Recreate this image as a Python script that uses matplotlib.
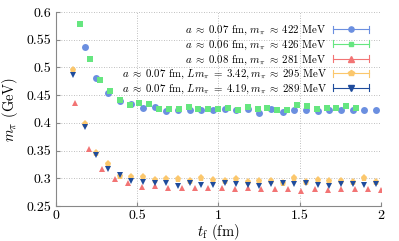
import numpy as np
import matplotlib.pyplot as plt
from matplotlib.lines import Line2D
from matplotlib.legend_handler import HandlerBase
from matplotlib.ticker import FormatStrFormatter

plt.rcParams['font.family'] = 'serif'
plt.rcParams['font.serif'] = ['cmr10']
plt.rcParams['mathtext.fontset'] = 'cm'
plt.rcParams['axes.formatter.use_mathtext'] = True

# a ~ 0.07 fm, m_pi ~ 422 MeV (blue circles)
t_blue = 0.178 + 0.0716 * np.arange(26)
m_blue = [0.5365, 0.4805, 0.4545, 0.440, 0.4347, 0.4275, 0.4287, 0.4215, 0.424,
          0.4227, 0.4238, 0.4238, 0.4252, 0.4227, 0.425, 0.4185, 0.425, 0.4203,
          0.4227, 0.423, 0.4223, 0.4227, 0.4227, 0.4227, 0.4227, 0.4227]

# a ~ 0.06 fm, m_pi ~ 426 MeV (green squares)
t_green = 0.150 + 0.0606 * np.arange(29)
m_green = [0.579, 0.516, 0.4774, 0.4576, 0.4413, 0.4329, 0.436, 0.4335, 0.425,
           0.4253, 0.4253, 0.4292, 0.4253, 0.4253, 0.4259, 0.4265, 0.4235, 0.4295,
           0.4253, 0.4277, 0.4237, 0.4233, 0.4317, 0.4305, 0.4259, 0.4265, 0.4265,
           0.4305, 0.4277]

# a ~ 0.08 fm, m_pi ~ 281 MeV (red triangles)
t_red = 0.119 + 0.0818 * np.arange(24)
m_red = [0.4354, 0.3523, 0.316, 0.2993, 0.292, 0.2848, 0.286, 0.2819, 0.2819,
         0.2819, 0.2819, 0.2819, 0.2801, 0.2819, 0.2801, 0.2807, 0.2813, 0.2777,
         0.2813, 0.2789, 0.2813, 0.2807, 0.280, 0.2789]

# a ~ 0.07 fm, L m_pi = 3.42 (orange pentagons) and 4.19 (navy triangles)
t_vol = 0.1064 + 0.0716 * np.arange(27)
m_orange = [0.4955, 0.398, 0.346, 0.325, 0.305, 0.303, 0.303, 0.297, 0.298,
            0.2985, 0.2957, 0.300, 0.297, 0.2946, 0.2985, 0.294, 0.2957, 0.2946,
            0.292, 0.300, 0.2935, 0.2964, 0.2958, 0.2946, 0.294, 0.3005, 0.293]
m_navy = [0.486, 0.393, 0.342, 0.3175, 0.306, 0.2957, 0.2928, 0.291, 0.292,
          0.2861, 0.292, 0.2873, 0.2885, 0.291, 0.2897, 0.2885, 0.2867, 0.2897,
          0.291, 0.2897, 0.291, 0.2879, 0.2861, 0.2897, 0.2897, 0.2873, 0.2897]

labels = [r'$a \;\approx\; 0.07$ fm, $m_\pi \;\approx\; 422$ MeV',
          r'$a \;\approx\; 0.06$ fm, $m_\pi \;\approx\; 426$ MeV',
          r'$a \;\approx\; 0.08$ fm, $m_\pi \;\approx\; 281$ MeV',
          r'$a \;\approx\; 0.07$ fm, $Lm_\pi \;=\; 3.42, m_\pi \;\approx\; 295$ MeV',
          r'$a \;\approx\; 0.07$ fm, $Lm_\pi \;=\; 4.19, m_\pi \;\approx\; 289$ MeV']

series = [(t_blue, m_blue, 'o', '#6b8fe0', 5.0),
          (t_green, m_green, 's', '#66e680', 4.8),
          (t_red, m_red, '^', '#f27474', 5.0),
          (t_vol, m_orange, 'p', '#fbc76c', 5.2),
          (t_vol, m_navy, 'v', '#1f4c9c', 5.0)]


class ErrbarHandler(HandlerBase):
    # gnuplot style key sample: line with caps at both ends and a marker
    def create_artists(self, legend, orig, xd, yd, w, h, fontsize, trans):
        y = h / 2 - yd
        c = orig.get_color()
        line = Line2D([-xd, w - xd], [y, y], color=c, lw=0.8)
        cap1 = Line2D([-xd, -xd], [y - 2.5, y + 2.5], color=c, lw=0.8)
        cap2 = Line2D([w - xd, w - xd], [y - 2.5, y + 2.5], color=c, lw=0.8)
        mk = Line2D([(w - xd * 2) / 2], [y], marker=orig.get_marker(), color=c,
                    markersize=orig.get_markersize() * 0.75, linestyle='none')
        arts = [line, cap1, cap2, mk]
        for a in arts:
            a.set_transform(trans)
        return arts


fig = plt.figure(figsize=(3.99, 2.41), dpi=100)
ax = fig.add_axes([0.140, 0.145, 0.815, 0.805])

handles = []
for (t, m, mk, col, ms), lab in zip(series, labels):
    ax.plot(t, m, linestyle='none', marker=mk, color=col, markersize=ms,
            markeredgewidth=0)
    handles.append(Line2D([], [], marker=mk, color=col, markersize=ms, label=lab))

ax.set_xlim(0, 2)
ax.set_ylim(0.25, 0.6)
ax.set_xticks([0, 0.5, 1, 1.5, 2])
ax.set_yticks([0.25, 0.3, 0.35, 0.4, 0.45, 0.5, 0.55, 0.6])
ax.xaxis.set_major_formatter(FormatStrFormatter('%g'))
ax.yaxis.set_major_formatter(FormatStrFormatter('%g'))
ax.tick_params(direction='in', length=3, color='#888888', labelsize=10, pad=3)
ax.grid(True, linestyle=(0, (1, 2)), color='#aaaaaa', lw=0.6)
for s in ['top', 'right']:
    ax.spines[s].set_visible(False)
for s in ['left', 'bottom']:
    ax.spines[s].set_color('#888888')
    ax.spines[s].set_linewidth(0.8)

ax.set_xlabel(r'$t_{\rm f}$ (fm)', fontsize=10.5)
ax.set_ylabel(r'$m_\pi$ (GeV)', fontsize=10.5)
ax.xaxis.set_label_coords(0.5, -0.082)
ax.yaxis.set_label_coords(-0.11, 0.5)

ax.legend(handles=handles, loc='upper right', frameon=False, fontsize=7.8,
          markerfirst=False, handlelength=3.3, handletextpad=0.6,
          labelspacing=0.12, borderaxespad=0.7,
          handler_map={Line2D: ErrbarHandler()})

fig.savefig('out.png', dpi=100)
